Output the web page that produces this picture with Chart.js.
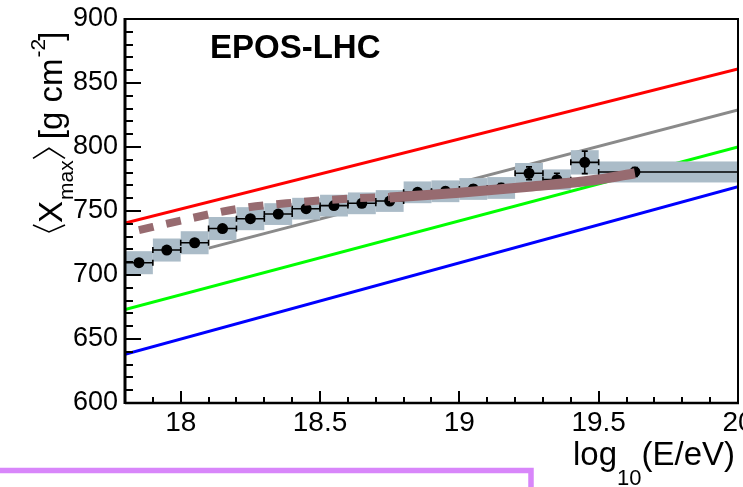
<!DOCTYPE html>
<html>
<head>
<meta charset="utf-8">
<script src="https://cdn.jsdelivr.net/npm/chart.js@4.4.1/dist/chart.umd.min.js"></script>
<style>
  html, body { margin: 0; padding: 0; background: #fff; }
  #wrap { position: relative; width: 743px; height: 487px; }
</style>
</head>
<body>
<div id="wrap"><canvas id="xmaxChart" width="743" height="487"></canvas></div>
<script>
// measured <Xmax> per energy bin (log10(E/eV))
const energyBins = [17.85, 17.95, 18.05, 18.15, 18.25, 18.35, 18.45, 18.55, 18.65,
                    18.75, 18.85, 18.95, 19.05, 19.15, 19.25, 19.35, 19.45, 19.63];
const binLow  = [17.8, 17.9, 18.0, 18.1, 18.2, 18.3, 18.4, 18.5, 18.6,
                 18.7, 18.8, 18.9, 19.0, 19.1, 19.2, 19.3, 19.4, 19.5];
const binHigh = [17.9, 18.0, 18.1, 18.2, 18.3, 18.4, 18.5, 18.6, 18.7,
                 18.8, 18.9, 19.0, 19.1, 19.2, 19.3, 19.4, 19.5, 20.0];
const xmaxMean = [709.6, 719.5, 725.2, 736.3, 744.0, 747.6, 751.8, 754.2, 756.0,
                  757.8, 764.6, 765.4, 767.2, 768.0, 779.5, 774.5, 788.0, 780.5];
const xmaxStat = [2, 2, 2, 2, 2, 2, 2, 2, 2.5, 2.5, 2.5, 3, 3, 3.5, 5, 5, 8.8, 3.5];
const xmaxSys  = [9, 9, 9, 9, 9, 8.5, 8.5, 8.5, 8.5, 8.5, 8.5, 8.5, 8.5, 8.5, 8, 8, 9.5, 8.2];

// straight model lines
const lineE = [17.8, 20];
const redLine = [740.5, 861];
const greenLine = [673, 800];
const blueLine = [638, 769];
const grayE = [18.1, 20];
const grayLine = [721, 829];

// EPOS-LHC curve (dashed part, then solid part)
const dashedE = [17.85, 18.0, 18.2, 18.4, 18.6, 18.75];
const dashedX = [735, 742.5, 751.5, 756.4, 759.6, 761];
const solidE = [18.75, 19.0, 19.25, 19.5, 19.63];
const solidX = [760.5, 764.3, 769, 774.6, 779.5];

const xTicks = [18, 18.5, 19, 19.5, 20];
const xTickLabels = ['18', '18.5', '19', '19.5', '20'];
const yTicks = [600, 650, 700, 750, 800, 850, 900];

const FONT = '"Liberation Sans", Arial, Helvetica, sans-serif';
const toPts = (xs, ys) => xs.map((x, i) => ({ x: x, y: ys[i] }));

function drawRich(ctx, parts, x0, y0) {
  let cx = x0;
  parts.forEach(p => {
    if (p.bracket) {
      ctx.save();
      ctx.lineWidth = 1.6;
      ctx.beginPath();
      if (p.bracket === 'l') {
        ctx.moveTo(cx + p.w, y0 - 29); ctx.lineTo(cx, y0 - 13); ctx.lineTo(cx + p.w, y0 + 3);
      } else {
        ctx.moveTo(cx, y0 - 29); ctx.lineTo(cx + p.w, y0 - 13); ctx.lineTo(cx, y0 + 3);
      }
      ctx.stroke();
      ctx.restore();
      cx += p.w + (p.gap || 0);
      return;
    }
    ctx.font = `${p.size}px ${FONT}`;
    ctx.fillText(p.t, cx, y0 + (p.dy || 0));
    cx += ctx.measureText(p.t).width + (p.gap || 0);
  });
  return cx;
}

function richWidth(ctx, parts) {
  let w = 0;
  parts.forEach(p => {
    ctx.font = `${p.size}px ${FONT}`;
    w += ctx.measureText(p.t).width + (p.gap || 0);
  });
  return w;
}

const rootStyle = {
  id: 'rootStyle',
  beforeDatasetDraw(chart, args) {
    if (args.index !== 2) return;
    const { ctx, scales: { x, y } } = chart;
    ctx.save();
    // systematic boxes
    ctx.fillStyle = '#abbcc8';
    energyBins.forEach((e, i) => {
      const x0 = x.getPixelForValue(binLow[i]);
      const x1 = x.getPixelForValue(binHigh[i]);
      const y0 = y.getPixelForValue(xmaxMean[i] + xmaxSys[i]);
      const y1 = y.getPixelForValue(xmaxMean[i] - xmaxSys[i]);
      ctx.fillRect(x0, y0, x1 - x0, y1 - y0);
    });
    // statistical error bars
    ctx.strokeStyle = '#000';
    ctx.lineWidth = 1.6;
    energyBins.forEach((e, i) => {
      const xc = x.getPixelForValue(e);
      const yc = y.getPixelForValue(xmaxMean[i]);
      const xl = x.getPixelForValue(binLow[i]);
      const xh = x.getPixelForValue(binHigh[i]);
      const yt = y.getPixelForValue(xmaxMean[i] + xmaxStat[i]);
      const yb = y.getPixelForValue(xmaxMean[i] - xmaxStat[i]);
      ctx.beginPath();
      ctx.moveTo(xl, yc); ctx.lineTo(xh, yc);
      ctx.moveTo(xl, yc - 3); ctx.lineTo(xl, yc + 3);
      ctx.moveTo(xh, yc - 3); ctx.lineTo(xh, yc + 3);
      ctx.moveTo(xc, yt); ctx.lineTo(xc, yb);
      ctx.moveTo(xc - 3, yt); ctx.lineTo(xc + 3, yt);
      ctx.moveTo(xc - 3, yb); ctx.lineTo(xc + 3, yb);
      ctx.stroke();
    });
    ctx.restore();
  },
  afterDraw(chart) {
    const { ctx, chartArea: a, scales: { x, y } } = chart;
    ctx.save();
    ctx.strokeStyle = '#000';
    // frame
    ctx.lineWidth = 2;
    ctx.beginPath();
    ctx.moveTo(a.left, a.top); ctx.lineTo(a.right, a.top); ctx.lineTo(a.right, a.bottom);
    ctx.stroke();
    ctx.lineWidth = 3;
    ctx.beginPath();
    ctx.moveTo(a.left, a.top - 1); ctx.lineTo(a.left, a.bottom + 1);
    ctx.stroke();
    ctx.lineWidth = 2.5;
    ctx.beginPath();
    ctx.moveTo(a.left, a.bottom); ctx.lineTo(a.right + 1, a.bottom);
    ctx.stroke();
    // inner ticks
    ctx.lineWidth = 2;
    ctx.beginPath();
    for (let v = 600; v <= 900; v += 10) {
      const py = Math.round(y.getPixelForValue(v));
      const len = v % 50 === 0 ? 16 : 8;
      ctx.moveTo(a.left, py); ctx.lineTo(a.left + len, py);
    }
    for (let k = 179; k <= 200; k++) {
      const v = k / 10;
      const px = Math.round(x.getPixelForValue(v));
      const len = k % 5 === 0 ? 12 : 6;
      ctx.moveTo(px, a.bottom); ctx.lineTo(px, a.bottom - len);
    }
    ctx.stroke();

    ctx.fillStyle = '#000';
    // model label
    ctx.font = `bold 33px ${FONT}`;
    ctx.textBaseline = 'alphabetic';
    ctx.fillText('EPOS-LHC', 210, 58);

    // x-axis title
    const xParts = [
      { t: 'log', size: 33 },
      { t: '10', size: 22, dy: 20 },
      { t: '(E/eV)', size: 33 }
    ];
    const xw = richWidth(ctx, xParts);
    drawRich(ctx, xParts, 735 - xw, 465);

    // y-axis title, rotated
    ctx.save();
    ctx.translate(62, 232);
    ctx.rotate(-Math.PI / 2);
    drawRich(ctx, [
      { bracket: 'l', w: 7, gap: 2 },
      { t: 'X', size: 33, gap: 1 },
      { t: 'max', size: 21, dy: 11, gap: 2 },
      { bracket: 'r', w: 10, gap: 0 },
      { t: ' [g cm', size: 33, gap: 1 },
      { t: '-2', size: 21, dy: -17, gap: -2 },
      { t: ']', size: 33 }
    ], 0, 0);
    ctx.restore();

    // lilac frame of the panel below
    ctx.strokeStyle = '#d886fa';
    ctx.lineWidth = 5.5;
    ctx.beginPath();
    ctx.moveTo(0, 470.5); ctx.lineTo(531, 470.5); ctx.lineTo(531, 490);
    ctx.stroke();
    ctx.restore();
  }
};

new Chart(document.getElementById('xmaxChart'), {
  type: 'scatter',
  data: {
    datasets: [
      { data: toPts(solidE, solidX), showLine: true, pointRadius: 0, borderColor: '#976b70',
        borderWidth: 10, tension: 0.4, cubicInterpolationMode: 'monotone', borderCapStyle: 'butt' },
      { data: toPts(dashedE, dashedX), showLine: true, pointRadius: 0, borderColor: '#976b70',
        borderWidth: 8, borderDash: [15, 13], tension: 0.4, cubicInterpolationMode: 'monotone', borderCapStyle: 'butt' },
      { data: toPts(energyBins, xmaxMean), showLine: false, pointRadius: 5.5,
        backgroundColor: '#000', borderWidth: 0 },
      { data: toPts(lineE, redLine), showLine: true, pointRadius: 0, borderColor: '#ff0000', borderWidth: 3 },
      { data: toPts(grayE, grayLine), showLine: true, pointRadius: 0, borderColor: '#8a8a8a', borderWidth: 3 },
      { data: toPts(lineE, greenLine), showLine: true, pointRadius: 0, borderColor: '#00ff00', borderWidth: 3 },
      { data: toPts(lineE, blueLine), showLine: true, pointRadius: 0, borderColor: '#0000ff', borderWidth: 3 }
    ]
  },
  options: {
    responsive: false,
    animation: false,
    devicePixelRatio: 1,
    layout: { autoPadding: false, padding: { left: 0, top: 19, right: 5, bottom: 0 } },
    plugins: { legend: { display: false }, tooltip: { enabled: false } },
    scales: {
      x: {
        type: 'linear', min: 17.8, max: 20,
        afterBuildTicks: s => { s.ticks = xTicks.map(v => ({ value: v })); },
        afterFit: s => { s.height = 84; s.paddingLeft = 0; s.paddingRight = 0; },
        grid: { display: false, drawTicks: false },
        border: { display: false },
        ticks: { color: '#000', padding: 3, maxRotation: 0, autoSkip: false,
                 font: { family: FONT, size: 28 },
                 callback: v => xTickLabels[xTicks.indexOf(v)] }
      },
      y: {
        type: 'linear', min: 600, max: 900,
        afterBuildTicks: s => { s.ticks = yTicks.map(v => ({ value: v })); },
        afterFit: s => { s.width = 125; s.paddingTop = 0; s.paddingBottom = 0; },
        grid: { display: false, drawTicks: false },
        border: { display: false },
        ticks: { color: '#000', padding: 7, font: { family: FONT, size: 27 } }
      }
    }
  },
  plugins: [rootStyle]
});
</script>
</body>
</html>
